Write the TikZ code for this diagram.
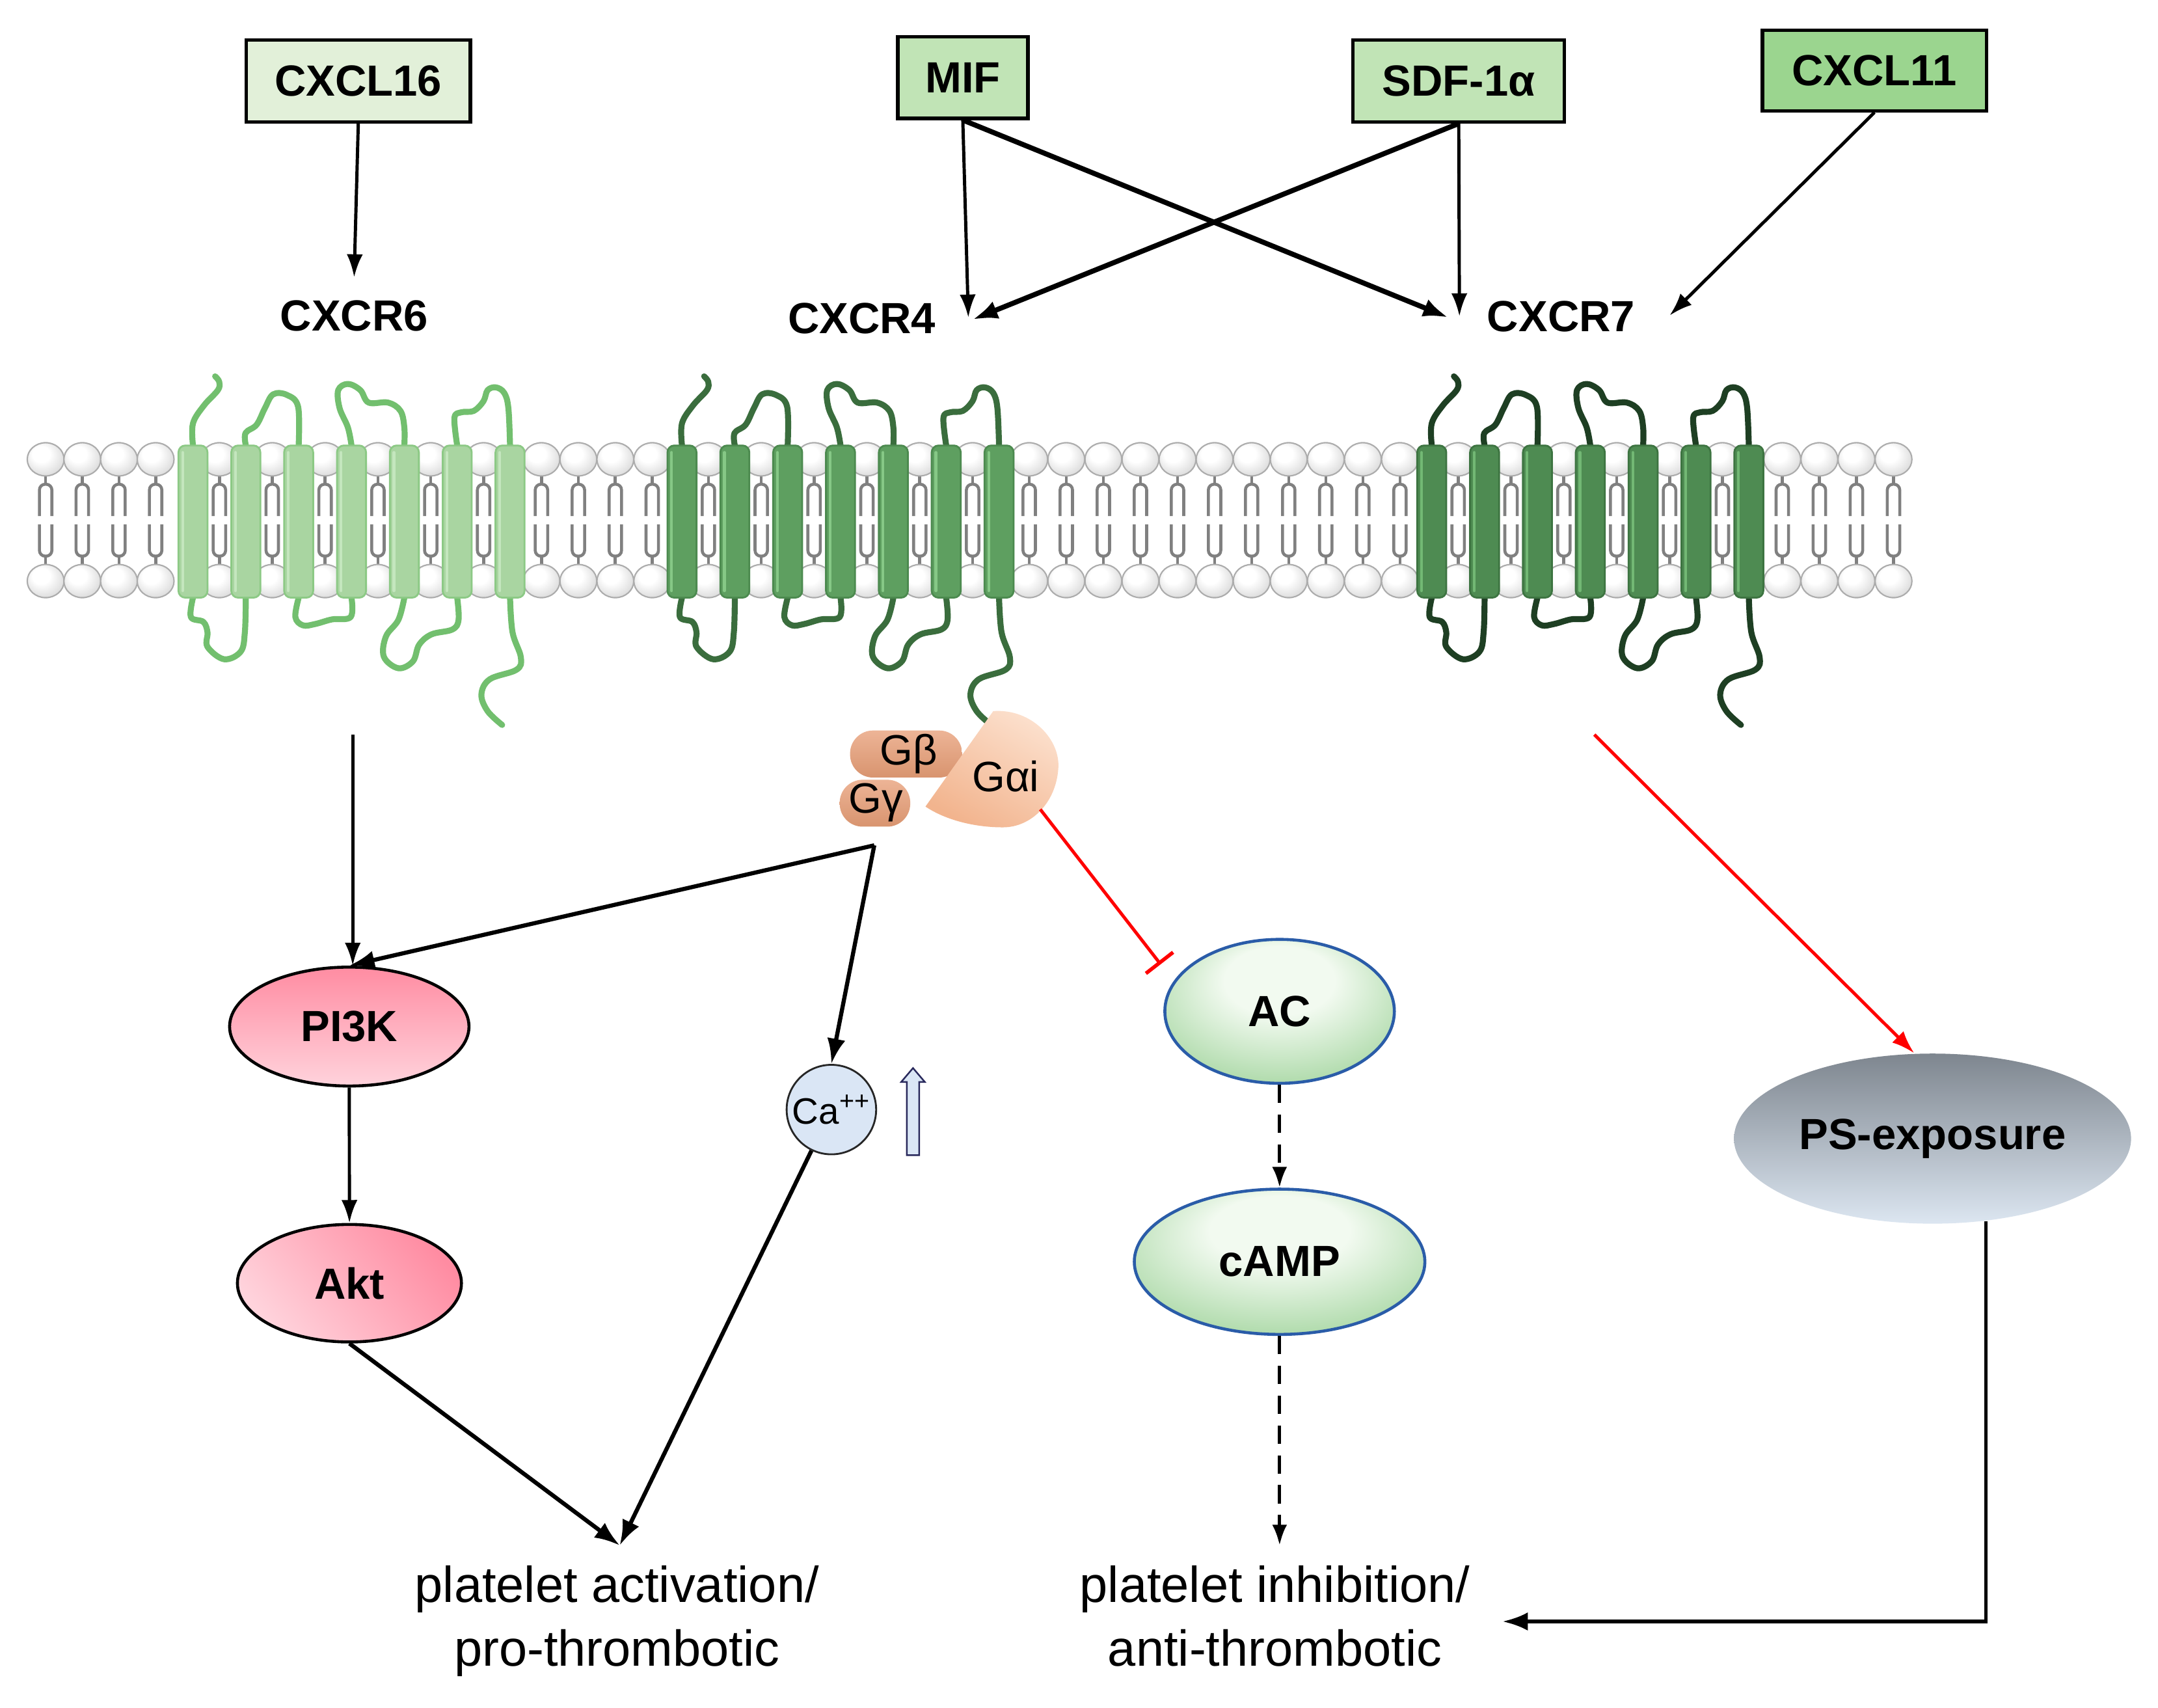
\documentclass[tikz,border=0pt]{standalone}
\usepackage{fontspec}
\setmainfont{Liberation Sans}
\usetikzlibrary{arrows.meta,calc,shapes.geometric}
\definecolor{boxA}{HTML}{E2F0D9}
\definecolor{boxB}{HTML}{C1E4B6}
\definecolor{boxC}{HTML}{9BD58F}
\definecolor{rsixfill}{HTML}{A9D5A1}
\definecolor{rsixedge}{HTML}{8CC985}
\definecolor{rsixloop}{HTML}{72BF6E}
\definecolor{rsixhi}{HTML}{C4E6BE}
\definecolor{rfourfill}{HTML}{5E9F60}
\definecolor{rfouredge}{HTML}{4C8A4F}
\definecolor{rfourloop}{HTML}{3A6D3D}
\definecolor{rfourhi}{HTML}{86C886}
\definecolor{rsevfill}{HTML}{4E8B52}
\definecolor{rsevedge}{HTML}{3D7441}
\definecolor{rsevloop}{HTML}{1E3F23}
\definecolor{rsevhi}{HTML}{72B874}
\definecolor{gbL}{HTML}{EDB496}
\definecolor{gbD}{HTML}{D8946F}
\definecolor{gaL}{HTML}{FCE0CD}
\definecolor{gaD}{HTML}{F2B48E}
\definecolor{pinkD}{HTML}{FF8CA2}
\definecolor{pinkL}{HTML}{FFD3DC}
\definecolor{greenE}{HTML}{6CBF69}
\definecolor{greenM}{HTML}{B2DCAE}
\definecolor{greenW}{HTML}{F2FAF0}
\definecolor{acedge}{HTML}{2A5CA8}
\definecolor{psT}{HTML}{7E868F}
\definecolor{psB}{HTML}{DCE6F1}
\definecolor{cafill}{HTML}{DAE6F5}
\definecolor{headgray}{HTML}{C4C4C4}
\definecolor{tailgray}{HTML}{808080}
\pgfdeclareradialshading{headshade}{\pgfpoint{-8bp}{10bp}}{color(0bp)=(white); color(12bp)=(white); color(42bp)=(headgray); color(50bp)=(headgray)}
\pgfdeclareradialshading{acshade}{\pgfpoint{0bp}{14bp}}{color(0bp)=(greenW); color(12bp)=(greenW); color(30bp)=(greenM); color(48bp)=(greenE); color(50bp)=(greenE)}
\newcommand{\lblfont}{\fontsize{19pt}{22pt}\selectfont\bfseries}
\newcommand{\gfont}{\fontsize{18.5pt}{20pt}\selectfont}
\tikzset{
  boxnode/.style={draw=black, line width=1.5pt, inner sep=0pt, font=\lblfont, minimum height=35.6pt},
  rlabel/.style={font=\lblfont, inner sep=10pt},
  thinarr/.style={line width=1.4pt, -{Latex[length=10pt,width=7pt]}},
  medarr/.style={line width=1.8pt, -{Latex[length=11pt,width=8pt]}},
  thickarr/.style={line width=2.2pt, -{Latex[length=11pt,width=8pt]}},
  dasharr/.style={line width=1.4pt, dash pattern=on 8pt off 5pt, -{Latex[length=9pt,width=6.5pt]}},
  redinh/.style={draw=red, line width=1.4pt, -{Bar[width=15pt,line width=1.6pt]}},
  redarr/.style={draw=red, line width=1.4pt, -{Latex[length=10pt,width=7pt]}},
  psarr/.style={line width=1.6pt, -{Latex[length=11pt,width=8pt]}},
  pinkell/.style={ellipse, draw=black, line width=1.3pt, inner sep=0pt, font=\lblfont},
  greenell/.style={ellipse, draw=acedge, line width=1.3pt, inner sep=0pt, font=\lblfont, shading=acshade},
  outtext/.style={font=\fontsize{22pt}{27.7pt}\selectfont, align=center, inner sep=0pt},
  tailst/.style={draw=tailgray, line width=1.3pt},
  headst/.style={shading=headshade, draw=gray!65, line width=0.6pt},
  loopst/.style={draw=#1, line width=2.6pt, line cap=round, line join=round}
}
\newcommand{\drawreceptor}[5]{%
\begin{scope}[shift={(#1,0)}]
\draw[loopst=#4] plot[smooth, tension=0.6] coordinates {(0,322) (0,306) (8,293) (18,282) (19,276) (16,272)};
\draw[loopst=#4] plot[smooth, tension=0.6] coordinates {(38.2,322) (38,313) (46,307) (52,295) (58,285) (68,285.5) (76,294) (76.4,322)};
\draw[loopst=#4] plot[smooth, tension=0.6] coordinates {(114.6,322) (112,309) (106,295) (105,282) (112,277.5) (121,282) (127,291) (141,291) (150,297) (152.8,309) (152.8,322)};
\draw[loopst=#4] plot[smooth, tension=0.6] coordinates {(191,322) (189,302) (194,298) (203,297) (210,290) (213,282) (219,280) (225,284) (228,295) (229.2,322)};
\draw[loopst=#4] plot[smooth, tension=0.6] coordinates {(0,432) (-1.5,446) (7.5,449.5) (10.5,457) (10.5,467.5) (22.5,476.5) (34.5,471) (37.5,457) (38.2,432)};
\draw[loopst=#4] plot[smooth, tension=0.6] coordinates {(76.4,432) (74,446) (79.5,452) (88.5,451) (100.5,447.7) (114,446) (114.6,432)};
\draw[loopst=#4] plot[smooth, tension=0.6] coordinates {(152.8,432) (148.5,448) (139.5,460) (138,474.7) (148.5,483) (159,478) (163.5,466) (172.5,458.5) (187.5,455) (192,448) (191,432)};
\draw[loopst=#4] plot[smooth, tension=0.6] coordinates {(229.2,432) (231,457) (237,475) (234,484) (214.5,491) (208.5,502) (213,514) (223.5,524)};
\foreach \hx in {0,38.2,76.4,114.6,152.8,191,229.2}{
  \draw[fill=#2, draw=#3, line width=0.8pt, rounded corners=3pt] ({\hx-10.5},322) rectangle ({\hx+10.5},432);
  \draw[draw=#5, line width=1.2pt, line cap=round] ({\hx-7.5},327) -- ({\hx-7.5},427);
}
\end{scope}}
\begin{document}
\begin{tikzpicture}[x=0.6027pt,y=-0.6027pt]
\useasboundingbox (0,0) rectangle (1560,1234.1);
\fill[white] (0,0) rectangle (1560,1234.1);

% ---------- membrane ----------
\foreach \x in {33,59.5,86,112.5,158.6,196.8,235,273.2,311.4,349.6,391.4,418.1,444.8,471.5,512.1,550.3,588.5,626.7,664.9,703.1,744,770.8,797.6,824.4,851.2,878,904.8,931.6,958.4,985.2,1012,1054.1,1092.3,1130.5,1168.7,1206.9,1245.1,1288.4,1315.2,1342,1368.8}{
  \draw[tailst] (\x,343) -- (\x,350);
  \draw[tailst, rounded corners=2.5pt] ({\x-4.5},373) -- ({\x-4.5},350) -- ({\x+4.5},350) -- ({\x+4.5},373);
  \draw[tailst, rounded corners=2.5pt] ({\x-4.5},379) -- ({\x-4.5},402) -- ({\x+4.5},402) -- ({\x+4.5},379);
  \draw[tailst] (\x,402) -- (\x,409);
  \shadedraw[headst] (\x,332) ellipse [x radius=13.3, y radius=12];
  \shadedraw[headst] (\x,420) ellipse [x radius=13.3, y radius=12];
}

% ---------- receptors ----------
\drawreceptor{139.5}{rsixfill}{rsixedge}{rsixloop}{rsixhi}
\drawreceptor{493}{rfourfill}{rfouredge}{rfourloop}{rfourhi}
\drawreceptor{1035}{rsevfill}{rsevedge}{rsevloop}{rsevhi}

% ---------- G proteins ----------
\shade[top color=gbL, bottom color=gbD, rounded corners=10pt] (614.5,528) rectangle (695.5,562);
\shade[top color=gbL, bottom color=gbD, rounded corners=10pt] (607,563.6) rectangle (658,597.5);
\shade[top color=gaL, bottom color=gaD, shading angle=-30] (718,514) .. controls (746,512) and (767,535) .. (765,556) .. controls (763,581) and (745,598) .. (725,598) .. controls (705,598) and (684,593) .. (669,583) -- cycle;
\node[font=\gfont, inner sep=0pt] (gb) at (657,545) {Gβ};
\node[font=\gfont, inner sep=0pt] (gg) at (633,580) {Gγ};
\node[font=\gfont, inner sep=0pt] (gai) at (727,561) {Gαi};

% ---------- top boxes and labels ----------
\node[boxnode, fill=boxA, minimum width=97.6pt] (cxcl16) at (259,58.5) {CXCL16};
\node[boxnode, fill=boxB, minimum width=56.7pt] (mif) at (696,56) {MIF};
\node[boxnode, fill=boxB, minimum width=92.2pt] (sdf) at (1054.5,58.5) {SDF-1α};
\node[boxnode, fill=boxC, minimum width=97.6pt, minimum height=35pt] (cxcl11) at (1355,51) {CXCL11};
\node[rlabel] (cxcr6) at (256,228.5) {CXCR6};
\node[rlabel] (cxcr4) at (623,230) {CXCR4};
\node[rlabel] (cxcr7) at (1128.5,229) {CXCR7};

% ---------- pathway nodes ----------
\node[pinkell, top color=pinkD, bottom color=pinkL, minimum width=104.3pt, minimum height=51.8pt] (pi3k) at (252.5,742) {PI3K};
\node[pinkell, top color=pinkD, bottom color=pinkL, shading angle=-50, minimum width=97.6pt, minimum height=51.2pt] (akt) at (252.6,927.5) {Akt};
\node[circle, draw=gray!30!black, line width=0.8pt, fill=cafill, minimum size=39pt, inner sep=0pt, font=\fontsize{16pt}{18pt}\selectfont] (ca) at (601,802) {Ca\textsuperscript{++}};
\draw[fill=cafill, draw=gray!40!black!80!blue, line width=0.7pt] (660,772) -- (668.5,782) -- (664.5,782) -- (664.5,835) -- (655.5,835) -- (655.5,782) -- (651.5,782) -- cycle;
\node[greenell, minimum width=100pt, minimum height=62.7pt] (ac) at (925,731) {AC};
\node[greenell, minimum width=126.6pt, minimum height=63.3pt] (camp) at (925,912) {cAMP};
\node[ellipse, top color=psT, bottom color=psB, inner sep=0pt, font=\lblfont, minimum width=173pt, minimum height=74.1pt] (ps) at (1397,823) {PS-exposure};
\node[outtext] (act) at (446,1172) {platelet activation/\strut\\pro-thrombotic\strut};
\node[outtext] (inhib) at (921.6,1172) {platelet inhibition/\strut\\anti-thrombotic\strut};

% ---------- coordinates ----------
\coordinate (rfourA) at (700,229.5);
\coordinate (rfourB) at (703,231);
\coordinate (rsevA) at (1047,229.5);
\coordinate (rsevB) at (1055,228.6);
\coordinate (rsevR) at (1207,228);
\coordinate (rsixout) at (255,531);
\coordinate (gjun) at (632,611);
\coordinate (actTop) at (448,1117);
\coordinate (inhTop) at (925,1117);
\coordinate (gaiEdge) at (752,585);
\coordinate (acbar) at ($(ac.center)+(-86,-34)$);
\coordinate (rsevout) at (1152.5,531);

% ---------- connectors ----------
\draw[thinarr] (cxcl16.south) -- (cxcr6.north);
\draw[thinarr] (mif.south) -- (rfourA);
\draw[thickarr] (mif.south) -- (rsevA);
\draw[thickarr] (sdf.south) -- (rfourB);
\draw[thinarr] (sdf.south) -- (rsevB);
\draw[thinarr] (cxcl11.south) -- (rsevR);
\draw[thinarr] (rsixout) -- (rsixout |- pi3k.north);
\draw[thinarr] (pi3k.south) -- (akt.north);
\draw[medarr] (gjun) -- (pi3k.north);
\draw[medarr] (gjun) -- (ca.north);
\draw[medarr] (akt.south) -- (actTop);
\draw[medarr] (ca) -- (actTop);
\draw[dasharr] (ac.south) -- (camp.north);
\draw[dasharr] (camp.south) -- (inhTop);
\draw[redinh] (gaiEdge) -- (acbar);
\draw[redarr] (rsevout) -- ([xshift=-8pt]ps.north);
\draw[psarr] (ps.-57) |- ([xshift=14pt]inhib.east);
\end{tikzpicture}
\end{document}
